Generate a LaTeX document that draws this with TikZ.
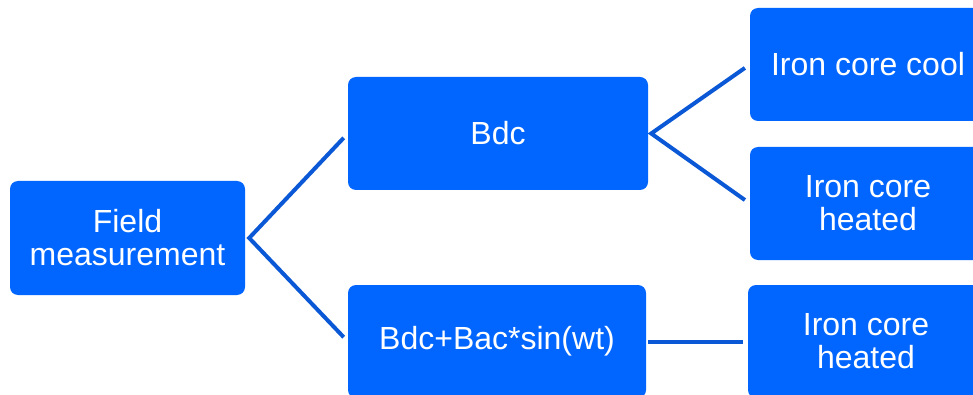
\documentclass[tikz,border=0pt]{standalone}
\usepackage{fontspec}
\setmainfont{Liberation Sans}
\usetikzlibrary{positioning}
\definecolor{boxblue}{HTML}{0066FF}
\definecolor{linkblue}{HTML}{0A58D6}
\tikzset{
stage/.style={rectangle, rounded corners=8pt, fill=boxblue, text=white, align=center,
  inner sep=0pt, minimum height=113pt, font=\fontsize{32}{33}\selectfont},
link/.style={draw=linkblue, line width=4pt, shorten <=6pt, shorten >=6pt}}

\begin{document}
\begin{tikzpicture}[x=1pt, y=-1pt]
    \useasboundingbox (0,0) rectangle (973,395);

                \node[stage, minimum width=235pt, minimum height=114pt] (F) at (127.5,238) {Field\\measurement};
                \node[stage, minimum width=300pt] (B1) at (498,133.5) {Bdc};
                \node[stage, minimum width=298pt] (B2) at (497,341.5) {Bdc+Bac*sin(wt)};
                \node[stage, minimum width=236pt] (C1) at (868,64.5) {Iron core cool};
                \node[stage, minimum width=236pt] (H1) at (868,203.5) {Iron core\\heated};
                \node[stage, minimum width=236pt] (H2) at (866,341.5) {Iron core\\heated};

                % forks just right of the boxes
                \coordinate (Fj) at ([xshift=4pt]F.east);
                \coordinate (B1j) at ([xshift=3pt]B1.east);

                \draw[link] (B1.west) -- (Fj) -- (B2.west);
                \draw[link] (C1.west) -- (B1j) -- (H1.west);
                \draw[link, shorten <=2pt, shorten >=5pt] (B2.east) -- (H2.west);

            \end{tikzpicture}
\end{document}
